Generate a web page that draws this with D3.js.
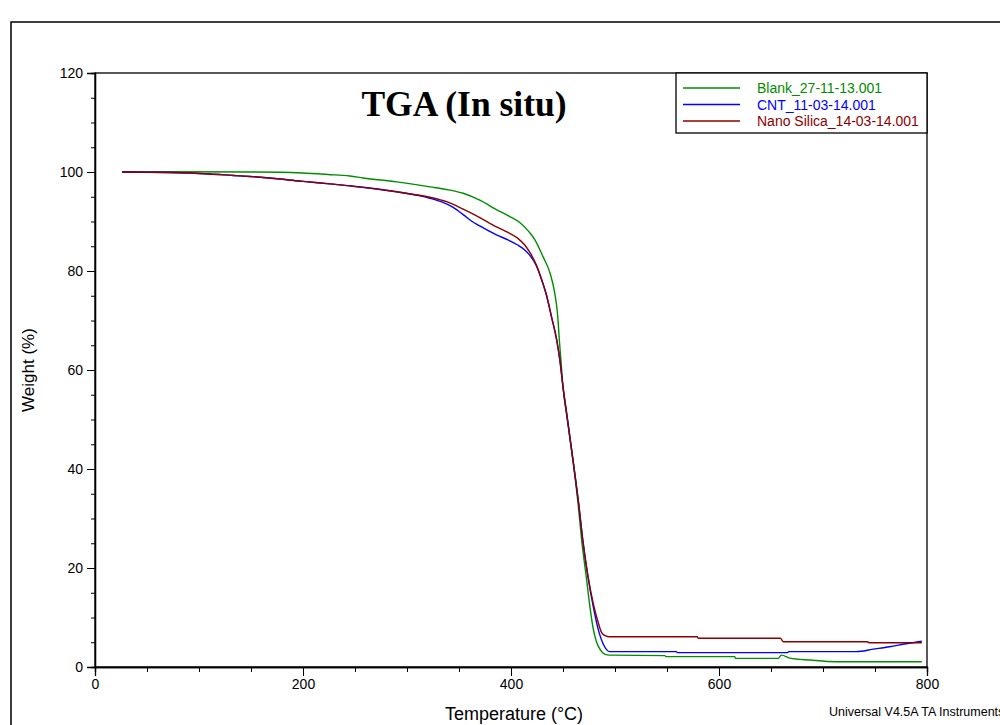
<!DOCTYPE html>
<html>
<head>
<meta charset="utf-8">
<script src="https://cdn.jsdelivr.net/npm/d3@7"></script>
<style>
  body { margin: 0; background: #fff; }
  text { font-family: "Liberation Sans", Arial, sans-serif; }
</style>
</head>
<body>
<div class="canvas"></div>
<script>
// [temperature °C, weight %]
const blank = [[26,100],[70,100.05],[154,100],[199,99.8],[224,99.5],[245,99.2],[258,98.8],[290,98],[322,97],[340,96.4],
  [354,95.7],[370,94.3],[386,92.4],[398,91.1],[409,89.7],[417,88],[423,86.3],[431,82.8],[437.5,79.6],[442,75.6],[445,70.7],
  [446.5,66],[448,62],[450,56.6],[454,50.2],[457,45.6],[460,41],[464.5,33],[468,25.5],[472.5,18],[476,12],[479,7.8],
  [482,5.2],[486,3.4],[490,2.6],[495,2.4],[548,2.3],[549,2.1],[615,2.1],[616,1.75],[657,1.75],[660,2.4],[668,1.8],
  [688,1.4],[713,1.07],[795,1.07]]

const cnt = [[26,100],[70,99.9],[110,99.6],[133,99.3],[149,99.1],[162,98.9],[178,98.6],[200,98.1],[226,97.6],[245,97.2],
  [290,96],[322,94.7],[334,93.9],[344,92.9],[354,91.4],[362,90.1],[370,89.1],[386,87.3],[397,86.3],[406,85.3],[413,84.3],
  [418,83.2],[424,81.2],[429,78.5],[434,75.2],[439,70.7],[444,66],[447,62],[450,56.6],[454,50.5],[457,45.9],[460,41.2],
  [465,33.1],[469,25.7],[474,18.2],[479,12.3],[484,7.5],[489,4.5],[495,3.1],[559,3.1],[560,2.9],[666,2.9],[667,3.1],
  [732,3.1],[748,3.6],[764,4.1],[780,4.7],[795,5.2]]

const silica = [[26,100],[70,99.9],[110,99.6],[133,99.3],[149,99.1],[162,98.9],[178,98.6],[200,98.1],[226,97.6],[245,97.2],
  [290,96],[322,94.9],[338,94],[354,92.5],[370,90.8],[386,88.9],[397,87.8],[406,86.7],[413,85.3],[418,83.8],[424,81.4],
  [429,78.6],[434,75.2],[439,70.7],[444,66],[447,62],[450,56.6],[454,50.5],[457,45.9],[460,41.2],[465,33.1],[469,25.7],
  [474,18.4],[479,12.9],[484,8.9],[487,7],[490,6.4],[495,6.1],[579,6.1],[580,5.8],[659,5.8],[662,5.1],
  [742,5.1],[745,4.9],[795,4.9]]

const seriesNames = ['Blank_27-11-13.001', 'CNT_11-03-14.001', 'Nano Silica_14-03-14.001']
const seriesColors = ['#008c00', '#0000ff', '#8b0000']
const xTicks = [0, 200, 400, 600, 800]
const yTicks = [0, 20, 40, 60, 80, 100, 120]

const margin = { top: 73, right: 73, bottom: 58, left: 95 }
const width = 1000, height = 725
const graphWidth = width - margin.left - margin.right
const graphHeight = height - margin.top - margin.bottom

const svg = d3.select('.canvas')
    .append('svg')
    .attr('width', width)
    .attr('height', height)

// outer page frame
svg.append('path')
    .attr('d', `M11,${height} V22 H${width}`)
    .attr('fill', 'none')
    .attr('stroke', '#000')
    .attr('stroke-width', 1.5)

const graph = svg.append('g')
    .attr('transform', `translate(${margin.left}, ${margin.top})`)

const xScale = d3.scaleLinear().domain([0, 800]).range([0, graphWidth])
const yScale = d3.scaleLinear().domain([0, 120]).range([graphHeight, 0])

// plot box
graph.append('rect')
    .attr('width', graphWidth)
    .attr('height', graphHeight)
    .attr('fill', 'none')
    .attr('stroke', '#000')
    .attr('stroke-width', 1.3)

// minor ticks
graph.append('g')
    .attr('transform', `translate(0, ${graphHeight})`)
    .call(d3.axisBottom(xScale).tickValues(d3.range(0, 801, 50)).tickSize(5).tickFormat(''))
graph.append('g')
    .call(d3.axisLeft(yScale).tickValues(d3.range(0, 121, 5)).tickSize(4).tickFormat(''))

const xAxisGroup = graph.append('g')
    .attr('transform', `translate(0, ${graphHeight})`)
    .call(d3.axisBottom(xScale).tickValues(xTicks).tickSize(9).tickPadding(3))
const yAxisGroup = graph.append('g')
    .call(d3.axisLeft(yScale).tickValues(yTicks).tickSize(8).tickPadding(4))

graph.selectAll('.domain').attr('stroke', '#000').attr('stroke-width', 1.3)
graph.selectAll('.tick line').attr('stroke', '#000')
graph.selectAll('.tick text')
    .attr('font-size', 14)
    .attr('fill', '#000')
    .style('font-family', '"Liberation Sans", Arial, sans-serif')

const lineGenerator = d3.line()
    .x(d => xScale(d[0]))
    .y(d => yScale(d[1]))
    .curve(d3.curveMonotoneX)

const allSeries = [blank, cnt, silica]
// green first, blue over it, red on top
graph.selectAll('path.curve')
    .data(allSeries)
    .enter()
    .append('path')
    .attr('class', 'curve')
    .attr('fill', 'none')
    .attr('stroke', (d, i) => seriesColors[i])
    .attr('stroke-width', 1.4)
    .attr('d', lineGenerator)

// title
svg.append('text')
    .attr('x', 464)
    .attr('y', 116)
    .attr('text-anchor', 'middle')
    .attr('font-size', 35.5)
    .attr('font-weight', 'bold')
    .style('font-family', '"Liberation Serif", "Times New Roman", serif')
    .text('TGA (In situ)')

// legend
const legend = svg.append('g').attr('transform', 'translate(676, 73)')
legend.append('rect')
    .attr('width', 251)
    .attr('height', 60)
    .attr('fill', '#fff')
    .attr('stroke', '#000')
    .attr('stroke-width', 1.3)
seriesNames.forEach((name, i) => {
    legend.append('line')
        .attr('x1', 7).attr('x2', 64)
        .attr('y1', 15 + i * 16.5).attr('y2', 15 + i * 16.5)
        .attr('stroke', seriesColors[i])
        .attr('stroke-width', 1.4)
    legend.append('text')
        .attr('x', 81)
        .attr('y', 20 + i * 16.5)
        .attr('font-size', 14)
        .attr('fill', seriesColors[i])
        .text(name)
})

// axis titles
svg.append('text')
    .attr('x', 514)
    .attr('y', 720)
    .attr('text-anchor', 'middle')
    .attr('font-size', 18)
    .text('Temperature (°C)')

svg.append('text')
    .attr('transform', 'translate(34, 370) rotate(-90)')
    .attr('text-anchor', 'middle')
    .attr('font-size', 17)
    .text('Weight (%)')

svg.append('text')
    .attr('x', 829)
    .attr('y', 716)
    .attr('font-size', 12.5)
    .text('Universal V4.5A TA Instruments')
</script>
</body>
</html>
